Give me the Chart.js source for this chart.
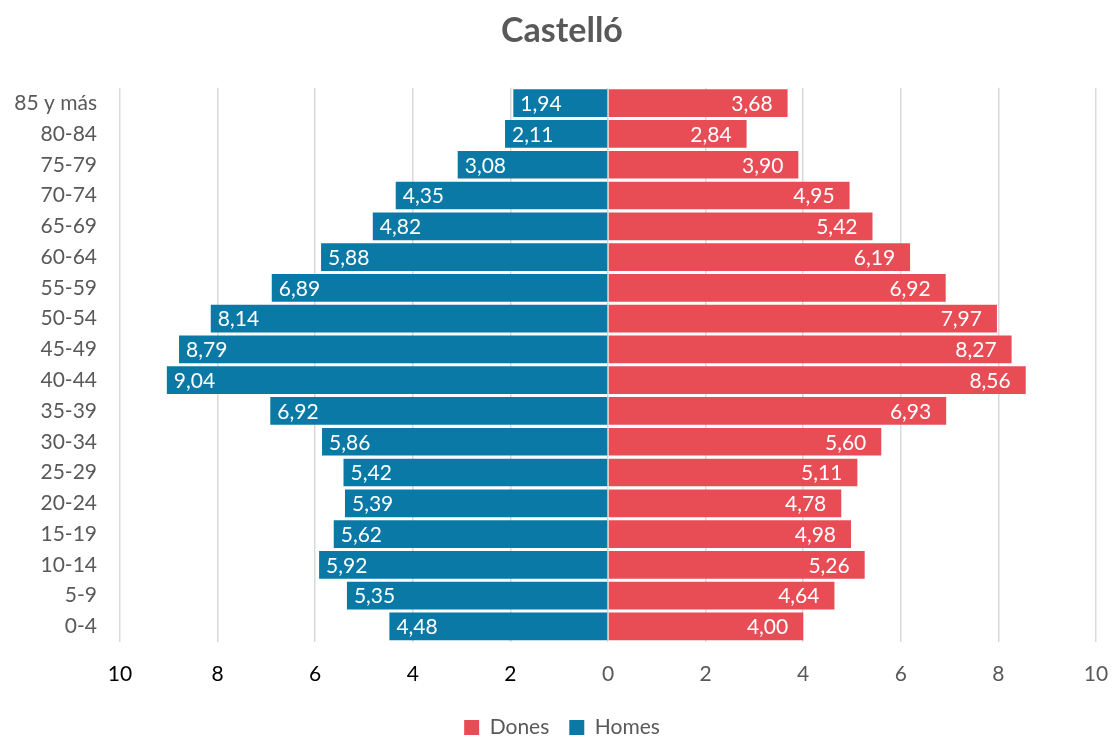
<!DOCTYPE html>
<html>
<head>
<meta charset="utf-8">
<title>Castelló</title>
<script src="https://cdn.jsdelivr.net/npm/chart.js@4/dist/chart.umd.min.js"></script>
<style>
  html, body { margin: 0; padding: 0; background: #fff; }
  #wrap { width: 1112px; height: 738px; position: relative; }
</style>
</head>
<body>
<div id="wrap"><canvas id="pyramid"></canvas></div>
<script>
// grupos de edad, de arriba abajo
const ageGroups = ['85 y más', '80-84', '75-79', '70-74', '65-69', '60-64', '55-59', '50-54', '45-49',
  '40-44', '35-39', '30-34', '25-29', '20-24', '15-19', '10-14', '5-9', '0-4'];
// % de población por sexo
const dones = [3.68, 2.84, 3.90, 4.95, 5.42, 6.19, 6.92, 7.97, 8.27, 8.56, 6.93, 5.60, 5.11, 4.78, 4.98, 5.26, 4.64, 4.00];
const homes = [1.94, 2.11, 3.08, 4.35, 4.82, 5.88, 6.89, 8.14, 8.79, 9.04, 6.92, 5.86, 5.42, 5.39, 5.62, 5.92, 5.35, 4.48];
const xTicks = [-10, -8, -6, -4, -2, 0, 2, 4, 6, 8, 10];

const FONT = 'Lato, "Open Sans", sans-serif';
const RED = '#E84D56';
const BLUE = '#0A79A6';

// etiquetas de valor dentro de las barras (extremo exterior)
const barLabels = {
  id: 'barLabels',
  afterDatasetsDraw(chart) {
    const ctx = chart.ctx;
    ctx.save();
    ctx.font = '21px ' + FONT;
    ctx.fillStyle = '#ffffff';
    ctx.textBaseline = 'middle';
    chart.data.datasets.forEach((ds, i) => {
      const meta = chart.getDatasetMeta(i);
      meta.data.forEach((bar, j) => {
        const v = ds.data[j];
        const txt = Math.abs(v).toFixed(2).replace('.', ',');
        if (v < 0) {
          ctx.textAlign = 'left';
          ctx.fillText(txt, bar.x + 7, bar.y + 1);
        } else {
          ctx.textAlign = 'right';
          ctx.fillText(txt, bar.x - 15, bar.y + 1);
        }
      });
    });
    ctx.restore();
  }
};

new Chart(document.getElementById('pyramid'), {
  type: 'bar',
  data: {
    labels: ageGroups,
    datasets: [
      { label: 'Dones', data: dones, backgroundColor: RED },
      { label: 'Homes', data: homes.map(v => -v), backgroundColor: BLUE }
    ]
  },
  options: {
    indexAxis: 'y',
    responsive: true,
    maintainAspectRatio: false,
    animation: false,
    layout: { padding: { left: 12, right: 0, top: 0, bottom: -10 } },
    datasets: {
      bar: { barPercentage: 0.9, categoryPercentage: 1, borderWidth: 0 }
    },
    plugins: {
      title: {
        display: true,
        text: 'Castelló',
        color: '#595959',
        font: { family: FONT, size: 34, weight: 'bold' },
        padding: { top: 11, bottom: 36 }
      },
      legend: {
        position: 'bottom',
        labels: {
          color: '#595959',
          font: { family: FONT, size: 21 },
          boxWidth: 15,
          boxHeight: 15,
          padding: 20
        }
      },
      tooltip: { enabled: false }
    },
    scales: {
      x: {
        stacked: true,
        min: -10,
        max: 10,
        afterBuildTicks(scale) {
          scale.ticks = xTicks.map(v => ({ value: v }));
        },
        grid: { color: '#D9D9D9', lineWidth: 1.5, drawTicks: false },
        border: { display: false },
        ticks: {
          padding: 20,
          font: { family: FONT, size: 21 },
          color: ctx => ctx.tick.value < 0 ? '#000000' : '#595959',
          callback: v => Math.abs(v)
        },
        afterFit(scale) {
          scale.height -= 10;
          scale.paddingLeft = 0;
          scale.paddingRight = 16;
        }
      },
      y: {
        stacked: true,
        grid: { display: false, drawTicks: false },
        border: { display: false },
        ticks: {
          padding: 23,
          color: '#595959',
          font: { family: FONT, size: 21 }
        },
        afterFit(scale) { scale.width = 108; }
      }
    }
  },
  plugins: [barLabels]
});
</script>
</body>
</html>
